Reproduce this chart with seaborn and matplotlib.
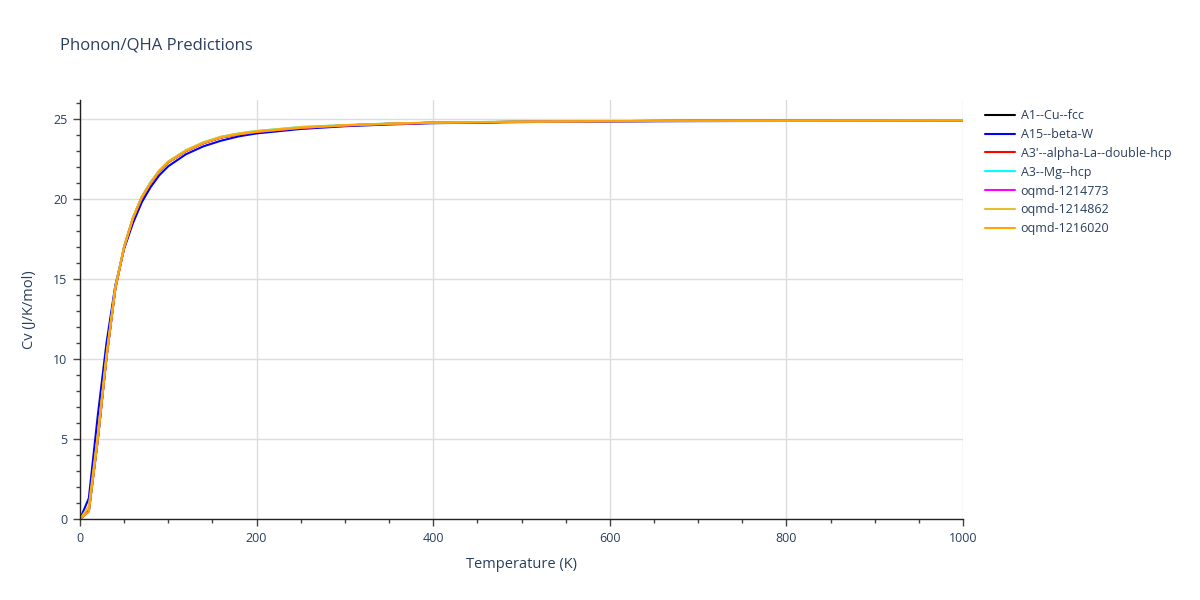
import numpy as np
import pandas as pd
import matplotlib
matplotlib.use('Agg')
import matplotlib.pyplot as plt
from matplotlib.ticker import MultipleLocator
import seaborn as sns

# Temperature grid (K)
temperature = [0, 10, 20, 30, 40, 50, 60, 70, 80, 90, 100, 120, 140, 160, 180,
               200, 250, 300, 350, 400, 500, 600, 700, 800, 900, 1000]

# Heat capacity Cv (J/K/mol)
cv_a1_cu_fcc = [0, 0.5, 4.9, 10.1, 14.4, 17.0, 18.8, 20.1, 21.0, 21.75, 22.3, 23.0, 23.5,
                23.85, 24.05, 24.2, 24.45, 24.6, 24.7, 24.77, 24.83, 24.87, 24.89, 24.9, 24.91, 24.92]
cv_a15_beta_w = [0, 1.3, 6.4, 11.0, 14.6, 16.9, 18.5, 19.8, 20.75, 21.5, 22.05, 22.8, 23.3,
                 23.65, 23.92, 24.1, 24.38, 24.55, 24.66, 24.74, 24.81, 24.85, 24.87, 24.88, 24.9, 24.92]
cv_a3p_alpha_la = [0, 0.5, 4.9, 10.1, 14.4, 17.0, 18.8, 20.1, 21.0, 21.75, 22.3, 23.0, 23.5,
                   23.85, 24.05, 24.2, 24.45, 24.6, 24.7, 24.77, 24.83, 24.87, 24.89, 24.9, 24.91, 24.92]
cv_a3_mg_hcp = [0, 0.5, 4.9, 10.1, 14.45, 17.05, 18.85, 20.15, 21.05, 21.8, 22.35, 23.05, 23.55,
                23.9, 24.1, 24.25, 24.5, 24.62, 24.72, 24.78, 24.84, 24.87, 24.89, 24.9, 24.91, 24.92]
cv_oqmd_1214773 = [0, 0.5, 4.9, 10.1, 14.4, 17.0, 18.8, 20.1, 21.0, 21.75, 22.3, 23.0, 23.5,
                   23.85, 24.05, 24.2, 24.45, 24.6, 24.7, 24.77, 24.83, 24.87, 24.89, 24.9, 24.91, 24.92]
cv_oqmd_1214862 = [0, 0.8, 5.2, 10.3, 14.5, 17.05, 18.85, 20.15, 21.05, 21.8, 22.35, 23.05, 23.55,
                   23.9, 24.1, 24.25, 24.5, 24.62, 24.72, 24.78, 24.84, 24.87, 24.89, 24.9, 24.91, 24.92]
cv_oqmd_1216020 = [0, 0.45, 4.9, 10.1, 14.4, 17.0, 18.8, 20.1, 21.0, 21.75, 22.3, 23.0, 23.5,
                   23.85, 24.05, 24.2, 24.45, 24.6, 24.7, 24.77, 24.83, 24.87, 24.89, 24.9, 24.91, 24.92]

series_names = ['A1--Cu--fcc', 'A15--beta-W', "A3'--alpha-La--double-hcp", 'A3--Mg--hcp',
                'oqmd-1214773', 'oqmd-1214862', 'oqmd-1216020']
series_values = [cv_a1_cu_fcc, cv_a15_beta_w, cv_a3p_alpha_la, cv_a3_mg_hcp,
                 cv_oqmd_1214773, cv_oqmd_1214862, cv_oqmd_1216020]
series_colors = ['#000000', '#0000ff', '#ff0000', '#00ffff', '#ff00ff', '#e6be2e', '#ffa500']

TEXT_COLOR = '#2a3f5f'


def build_frame():
    """Long-format table for seaborn"""
    rows = []
    for name, values in zip(series_names, series_values):
        for t, v in zip(temperature, values):
            rows.append({'Temperature': t, 'Cv': v, 'structure': name})
    return pd.DataFrame(rows)


def make_plot(df):
    sns.set_style('white')
    plt.rcParams['font.family'] = ['Open Sans', 'DejaVu Sans']

    fig = plt.figure(figsize=(12, 6), dpi=100)
    ax = fig.add_axes([80 / 1200, 1 - 519 / 600, 883 / 1200, 419 / 600])

    palette = dict(zip(series_names, series_colors))
    sns.lineplot(data=df, x='Temperature', y='Cv', hue='structure', hue_order=series_names,
                 palette=palette, linewidth=1.5, ax=ax, legend=True, sort=False)

    ax.set_xlim(0, 1000)
    ax.set_ylim(0, 26.19)
    ax.xaxis.set_major_locator(MultipleLocator(200))
    ax.xaxis.set_minor_locator(MultipleLocator(50))
    ax.yaxis.set_major_locator(MultipleLocator(5))
    ax.yaxis.set_minor_locator(MultipleLocator(1))
    ax.grid(True, which='major', color='#dddddd', linewidth=1)
    ax.set_axisbelow(True)

    for side in ['top', 'right']:
        ax.spines[side].set_visible(False)
    for side in ['left', 'bottom']:
        ax.spines[side].set_color('#222222')
        ax.spines[side].set_linewidth(1)

    ax.tick_params(axis='both', which='major', direction='out', length=5, width=1,
                   color='#444444', labelcolor=TEXT_COLOR, labelsize=9, pad=4)
    ax.tick_params(axis='both', which='minor', direction='out', length=3, width=1,
                   color='#444444')
    ax.tick_params(left=True, bottom=True, which='both')

    ax.set_xlabel('Temperature (K)', fontsize=10.5, color=TEXT_COLOR, labelpad=9)
    ax.set_ylabel('Cv (J/K/mol)', fontsize=10.5, color=TEXT_COLOR, labelpad=12)

    fig.text(60 / 1200, 1 - 45 / 600, 'Phonon/QHA Predictions', fontsize=12,
             color=TEXT_COLOR, va='center', ha='left')

    handles, labels = ax.get_legend_handles_labels()
    ax.legend(handles, labels, loc='upper left', bbox_to_anchor=(980 / 1200, 1 - 104 / 600),
              bbox_transform=fig.transFigure, frameon=False, fontsize=9,
              labelcolor=TEXT_COLOR, handlelength=2.4, handletextpad=0.45,
              labelspacing=0.47, borderaxespad=0)

    fig.savefig('out.png', dpi=100)
    print('Saved out.png')


def main():
    df = build_frame()
    make_plot(df)


if __name__ == "__main__":
    main()
